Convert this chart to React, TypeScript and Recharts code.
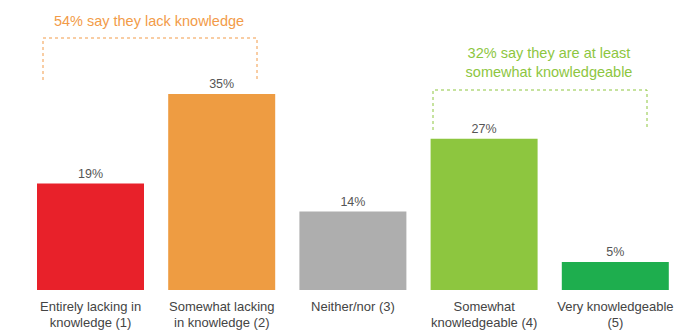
import React from 'react';
import { BarChart, Bar, XAxis, YAxis, Cell, LabelList } from 'recharts';

const categories = [
  'Entirely lacking in|knowledge (1)',
  'Somewhat lacking|in knowledge (2)',
  'Neither/nor (3)',
  'Somewhat|knowledgeable (4)',
  'Very knowledgeable|(5)',
];
const shares = [19, 35, 14, 27, 5];
const barColors = ['#E8212A', '#EE9C42', '#AEAEAE', '#8DC63F', '#1EAE4E'];

const data = categories.map((name, i) => ({ name, value: shares[i] }));

const FONT = '"Liberation Sans", Arial, sans-serif';

function TwoLineTick(props: any) {
  const { x, y, payload } = props;
  const lines = String(payload.value).split('|');
  return (
    <g transform={`translate(${x},${y})`}>
      {lines.map((line, i) => (
        <text
          key={i}
          x={0}
          y={i * 16.5}
          dy={12.5}
          textAnchor="middle"
          fontSize={13}
          fontFamily={FONT}
          fill="#444"
        >
          {line}
        </text>
      ))}
    </g>
  );
}

export default function App() {
  const orange = '#F29B48';
  const green = '#8DC63F';
  return (
    <div style={{ width: 691, height: 326 }}>
      <BarChart
        width={691}
        height={326}
        data={data}
        margin={{ top: 2, right: 18, left: 17, bottom: 4 }}
      >
        <XAxis
          dataKey="name"
          axisLine={false}
          tickLine={false}
          interval={0}
          height={40}
          tick={<TwoLineTick />}
        />
        <YAxis hide domain={[0, 50]} />
        <Bar dataKey="value" barSize={107} isAnimationActive={false}>
          {data.map((d, i) => (
            <Cell key={d.name} fill={barColors[i]} />
          ))}
          <LabelList
            dataKey="value"
            position="top"
            offset={6}
            formatter={(v: any) => `${v}%`}
            style={{ fontSize: 12.5, fontFamily: FONT, fill: '#555' }}
          />
        </Bar>

        {/* annotation brackets */}
        <path
          d="M35 72 L35 30 L249 30 L249 72"
          fill="none"
          stroke={orange}
          strokeWidth={1}
          strokeDasharray="3 3"
        />
        <text x={141} y={18} textAnchor="middle" fontSize={14.5} fontFamily={FONT} fill={orange}>
          54% say they lack knowledge
        </text>
        <path
          d="M425 122 L425 82 L639 82 L639 122"
          fill="none"
          stroke={green}
          strokeWidth={1}
          strokeDasharray="3 3"
        />
        <text x={541} y={50} textAnchor="middle" fontSize={14.5} fontFamily={FONT} fill={green}>
          32% say they are at least
        </text>
        <text x={541} y={69} textAnchor="middle" fontSize={14.5} fontFamily={FONT} fill={green}>
          somewhat knowledgeable
        </text>
      </BarChart>
    </div>
  );
}
